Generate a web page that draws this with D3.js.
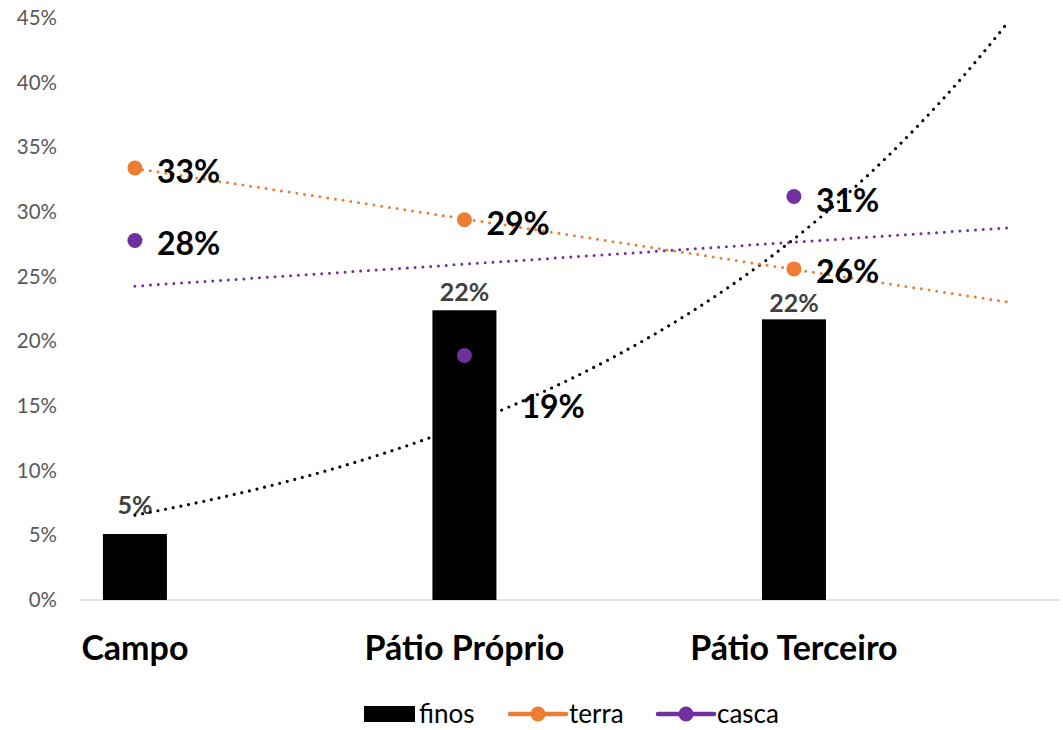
<!DOCTYPE html>
<html>
<head>
<meta charset="utf-8">
<script src="https://cdn.jsdelivr.net/npm/d3@7"></script>
<style>
  html, body { margin: 0; padding: 0; background: #fff; }
  svg { display: block; font-family: Lato, "Open Sans", sans-serif; }
</style>
</head>
<body>
<svg id="chart" width="1063" height="730"></svg>
<script>
// Categories and series (shares, 0-1)
const categories = ["Campo", "Pátio Próprio", "Pátio Terceiro"];
const finos = [0.051, 0.224, 0.217];
const terra = [0.334, 0.294, 0.256];
const casca = [0.278, 0.189, 0.312];
const yTicks = [0, 0.05, 0.10, 0.15, 0.20, 0.25, 0.30, 0.35, 0.40, 0.45];
const seriesNames = ["finos", "terra", "casca"];

const colors = { finos: "#000000", terra: "#ED7D31", casca: "#7030A0" };

const svg = d3.select("#chart");

// Category positions 1..3 on a numeric axis, with room for the forward trend forecast
const x = d3.scaleLinear().domain([0.8333, 3.8075]).range([80, 1060]);
const y = d3.scaleLinear().domain([0, 0.45]).range([600, 18]);
const pos = i => i + 1;
const trendEnd = 3.65;
const barWidth = 64;

// Y axis labels (no axis line, no gridlines)
const yAxis = d3.axisLeft(y).tickValues(yTicks).tickFormat(d3.format(".0%")).tickSize(0).tickPadding(0);
const gy = svg.append("g").attr("transform", "translate(57,0)").call(yAxis);
gy.select(".domain").remove();
gy.selectAll("text").attr("fill", "#595959").style("font-size", "20.5px")
  .style("font-family", "Lato, sans-serif");

// Category axis line
svg.append("line")
  .attr("x1", x.range()[0]).attr("x2", x.range()[1])
  .attr("y1", y(0)).attr("y2", y(0))
  .attr("stroke", "#D9D9D9").attr("stroke-width", 1.3);

// Bars
svg.append("g").selectAll("rect").data(finos).join("rect")
  .attr("x", (d, i) => x(pos(i)) - barWidth / 2)
  .attr("y", d => y(d))
  .attr("width", barWidth)
  .attr("height", d => y(0) - y(d))
  .attr("fill", colors.finos);

// Bar value labels
const barLabelLift = [20, 9, 7];
svg.append("g").selectAll("text").data(finos).join("text")
  .attr("x", (d, i) => x(pos(i)))
  .attr("y", (d, i) => y(d) - barLabelLift[i])
  .attr("text-anchor", "middle")
  .attr("fill", "#404040")
  .style("font-size", "25px").style("font-weight", "bold")
  .text(d => d3.format(".0%")(d));

// Trendlines
function linearFit(vals) {
  const xs = vals.map((v, i) => pos(i));
  const mx = d3.mean(xs), my = d3.mean(vals);
  const b = d3.sum(xs, (xi, i) => (xi - mx) * (vals[i] - my)) / d3.sum(xs, xi => (xi - mx) ** 2);
  const a = my - b * mx;
  return t => a + b * t;
}
function expFit(vals) {
  const f = linearFit(vals.map(Math.log));
  return t => Math.exp(f(t));
}
function trendPoints(fn) {
  return d3.range(1, trendEnd + 1e-9, 0.02).concat([trendEnd]).map(t => [t, fn(t)]);
}
const trendLine = d3.line().x(d => x(d[0])).y(d => y(d[1]));

const trends = [
  { fn: expFit(finos), color: colors.finos, w: 3.2 },
  { fn: linearFit(terra), color: colors.terra, w: 3 },
  { fn: linearFit(casca), color: colors.casca, w: 3 }
];
svg.append("g").selectAll("path").data(trends).join("path")
  .attr("d", d => trendLine(trendPoints(d.fn).filter(p => p[1] <= 0.452)))
  .attr("fill", "none")
  .attr("stroke", d => d.color)
  .attr("stroke-width", d => d.w)
  .attr("stroke-linecap", "round")
  .attr("stroke-dasharray", "0 7.8");

// Point markers
function drawPoints(vals, color) {
  svg.append("g").selectAll("circle").data(vals).join("circle")
    .attr("cx", (d, i) => x(pos(i)))
    .attr("cy", d => y(d))
    .attr("r", 7.5)
    .attr("fill", color);
}
drawPoints(terra, colors.terra);
drawPoints(casca, colors.casca);

// Point value labels
function drawLabels(vals, offsets) {
  svg.append("g").selectAll("text").data(vals).join("text")
    .attr("x", (d, i) => x(pos(i)) + offsets[i][0])
    .attr("y", (d, i) => y(d) + offsets[i][1])
    .attr("dominant-baseline", "central")
    .attr("fill", "#000")
    .style("font-size", "32px").style("font-weight", "bold")
    .text(d => d3.format(".0%")(d));
}
drawLabels(terra, [[22, 2], [22, 3], [22, 2]]);
drawLabels(casca, [[22, 2], [57, 50], [22, 3]]);

// Category labels
svg.append("g").selectAll("text").data(categories).join("text")
  .attr("x", (d, i) => x(pos(i)))
  .attr("y", 660)
  .attr("text-anchor", "middle")
  .attr("fill", "#000")
  .style("font-size", "34px").style("font-weight", "bold")
  .text(d => d);

// Legend
const legend = svg.append("g");
const legendX = [364, 510, 658];
seriesNames.forEach((name, i) => {
  const g = legend.append("g").attr("transform", `translate(${legendX[i]},714)`);
  if (name === "finos") {
    g.append("rect").attr("x", 0).attr("y", -8).attr("width", 51).attr("height", 16).attr("fill", colors.finos);
    g.append("text").attr("x", 55).attr("y", 9)
      .style("font-size", "26px").attr("fill", "#000").text(name);
  } else {
    g.append("line").attr("x1", 0).attr("x2", 56).attr("y1", 0).attr("y2", 0)
      .attr("stroke", colors[name]).attr("stroke-width", 4.5).attr("stroke-linecap", "round");
    g.append("circle").attr("cx", 28).attr("cy", 0).attr("r", 7.5).attr("fill", colors[name]);
    g.append("text").attr("x", 59).attr("y", 9)
      .style("font-size", "26px").attr("fill", "#000").text(name);
  }
});
</script>
</body>
</html>
